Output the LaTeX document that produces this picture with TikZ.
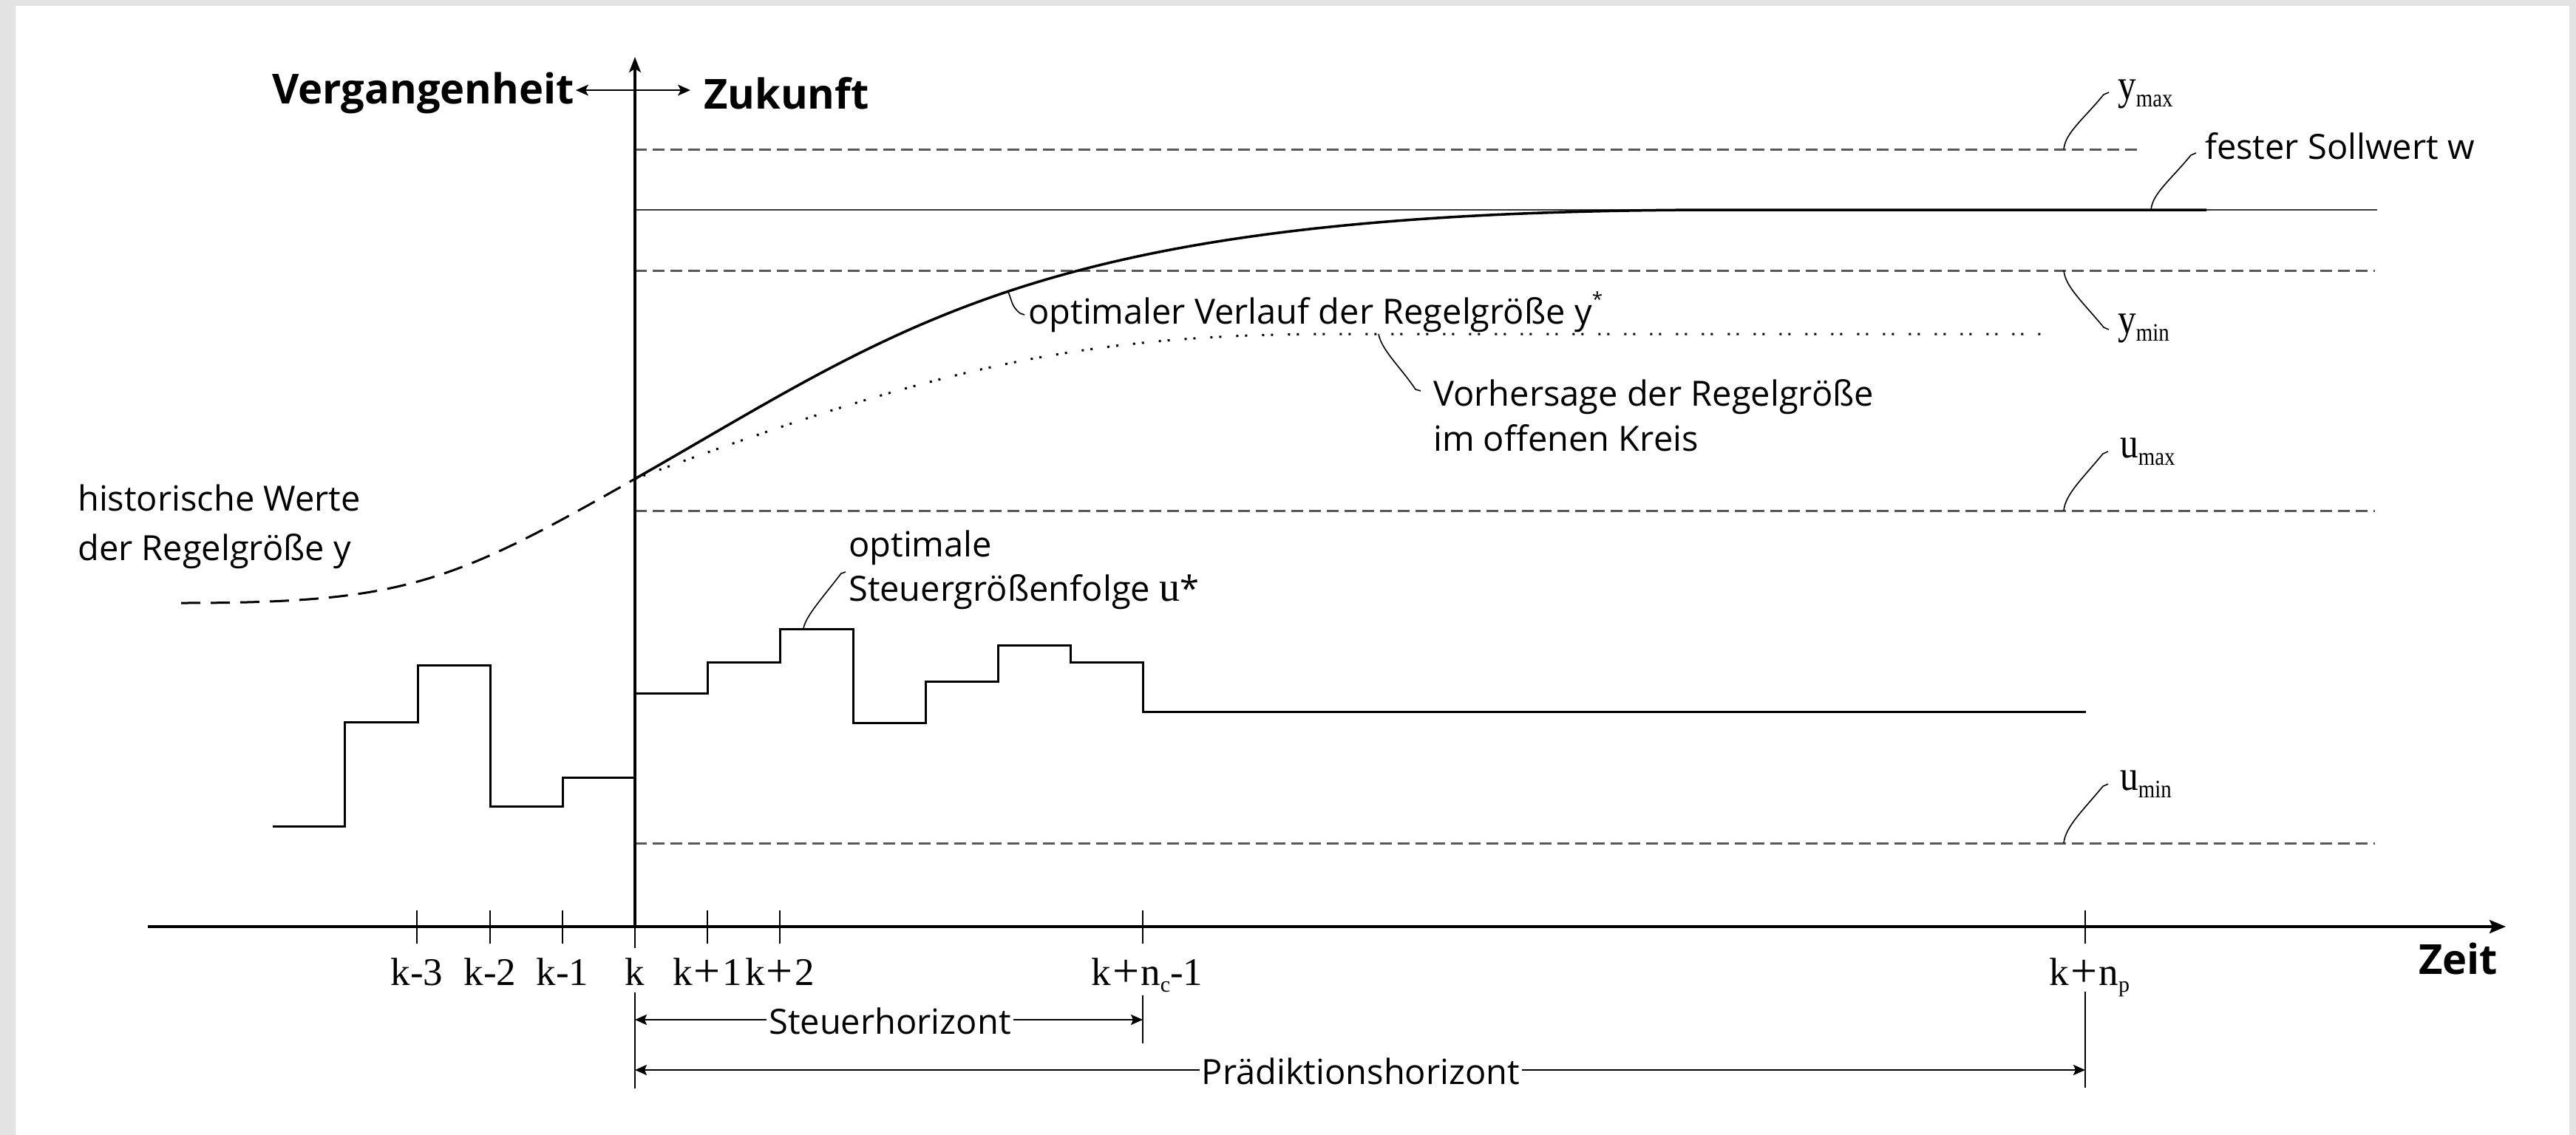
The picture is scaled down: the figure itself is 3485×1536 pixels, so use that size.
\documentclass[tikz,border=0pt]{standalone}
\usepackage{fontspec}
\setmainfont{Open Sans}
\newfontfamily\serifreg{Liberation Serif}
\newfontfamily\serifnar{Liberation Serif}[FakeStretch=0.85]
\usetikzlibrary{arrows.meta}
\definecolor{framegrey}{HTML}{E3E3E3}
\definecolor{limgrey}{HTML}{585858}
\definecolor{wgrey}{HTML}{3A3A3A}
\newcommand{\symlbl}[2]{{\serifnar\fontsize{58}{60}\selectfont #1\raisebox{-10pt}{\fontsize{34}{34}\selectfont #2}}}
\newcommand{\pl}{\kern2pt\raisebox{-2pt}{\fontsize{64}{60}\selectfont +}\kern2pt}
\begin{document}
\begin{tikzpicture}[x=1pt,y=-1pt,
  txt/.style={font=\fontsize{47}{56}\selectfont,inner sep=0pt,anchor=base west},
  hdr/.style={font=\fontsize{56}{66}\selectfont\bfseries,inner sep=0pt,anchor=base west},
  ticklbl/.style={font=\serifreg\fontsize{53}{60}\selectfont,inner sep=0pt,anchor=base},
  symb/.style={inner sep=0pt,anchor=base west},
  tickline/.style={line width=1.5pt},
  limit/.style={draw=limgrey,line width=3pt,dash pattern=on 16pt off 8pt},
  setpoint/.style={draw=wgrey,line width=2.5pt},
  leader/.style={line width=1.6pt},
  axisline/.style={line width=3.5pt},
  stepline/.style={line width=3pt,line join=miter},
  ystarline/.style={line width=3.5pt},
  histline/.style={line width=3pt,dash pattern=on 26pt off 14pt},
  openloop/.style={line width=3pt,dash pattern=on 3pt off 9pt on 3pt off 20pt},
  horiz/.style={line width=2.5pt,{Stealth[length=16pt,width=14pt,inset=3pt]}-{Stealth[length=16pt,width=14pt,inset=3pt]}},
  horizlbl/.style={font=\fontsize{47}{56}\selectfont,inner ysep=0pt,inner xsep=3pt,fill=white,anchor=base}
]
\fill[framegrey] (0,0) rectangle (3485,1536);
\fill[white] (21,8) rectangle (3476,1536);
\useasboundingbox (0,0) rectangle (3485,1536);

% ---------- limit and setpoint lines
\coordinate (ymaxL) at (859,202);  \coordinate (ymaxR) at (2895,202);
\coordinate (wL) at (859,284);     \coordinate (wR) at (3216,284);
\coordinate (yminL) at (859,366);  \coordinate (yminR) at (3213,366);
\coordinate (umaxL) at (859,691);  \coordinate (umaxR) at (3213,691);
\coordinate (uminL) at (859,1141); \coordinate (uminR) at (3213,1141);
\draw[limit] (ymaxL) -- (ymaxR);
\draw[limit] (yminL) -- (yminR);
\draw[limit] (umaxL) -- (umaxR);
\draw[limit] (uminL) -- (uminR);
\draw[setpoint] (wL) -- (wR);

% ---------- curves
\coordinate (y0) at (859,648);
\coordinate (hist0) at (245,816);
\draw[histline] (hist0) .. controls (545,816) and (609,790.5) .. (y0);
\draw[openloop] (y0) .. controls (1259,500) and (1457,452) .. (1807,452) -- (2769,452);
\draw[ystarline] (y0) .. controls (1235,434) and (1410,284) .. (2330,284)
   coordinate[pos=0.478] (ystarpt) -- (2985,284);

% ---------- control sequence u
\draw[stepline] (369,1118) -| (466,977) -| (565,900) -| (663,1091) -| (761,1052)
  -| (859,938) -| (957,896) -| (1055,851) -| (1154,978) -| (1252,922)
  -| (1350,873) -| (1448,896) -| (1546,963) -- (2822,963);

% ---------- axes
\coordinate (O) at (859,1254);
\coordinate (ytop) at (859,77);
\coordinate (tL) at (200,1254);
\coordinate (tR) at (3390,1254);
\draw[axisline,-{Stealth[length=21pt,width=16pt,inset=5pt]}] (O) -- (ytop);
\draw[line width=4pt,-{Stealth[length=22pt,width=18pt,inset=4pt]}] (tL) -- (tR);
\coordinate (pastTip) at (779,122);
\coordinate (futTip) at (934,122);
\draw[line width=2pt,{Stealth[length=17pt,width=15pt,inset=4pt]}-{Stealth[length=17pt,width=15pt,inset=4pt]}] (pastTip) -- (futTip);
\node[hdr,anchor=base east] (verg) at (777,140) {Vergangenheit};
\node[hdr] (zuk) at (952,148) {Zukunft};
\node[hdr] (zeit) at (3272,1318) {Zeit};

% ---------- ticks and tick labels
\foreach \x in {564,663,761,957,1055,1546,2821} \draw[tickline] (\x,1232) -- (\x,1277);
\draw[tickline] (859,1254) -- (859,1283);
\node[ticklbl] (lkm3) at (564,1333) {k-3};
\node[ticklbl] (lkm2) at (663,1333) {k-2};
\node[ticklbl] (lkm1) at (761,1333) {k-1};
\node[ticklbl] (lk) at (859,1333) {k};
\node[ticklbl] (lkp1) at (957,1333) {k\pl 1};
\node[ticklbl] (lkp2) at (1055,1333) {k\pl 2};
\node[ticklbl] (lknc) at (1552,1333) {k\pl n\raisebox{-9pt}{\fontsize{30}{30}\selectfont c}-1};
\node[ticklbl] (lknp) at (2827,1333) {k\pl n\raisebox{-9pt}{\fontsize{30}{30}\selectfont p}};

% ---------- horizons
\draw[tickline] (859,1343) -- (859,1473);
\draw[tickline] (1546,1347) -- (1546,1412);
\draw[tickline] (2821,1342) -- (2821,1472);
\coordinate (shL) at (859,1380); \coordinate (shR) at (1546,1380);
\coordinate (phL) at (859,1448); \coordinate (phR) at (2821,1448);
\draw[horiz] (shL) -- (shR);
\draw[horiz] (phL) -- (phR);
\node[horizlbl] (steuerh) at (1204,1399) {Steuerhorizont};
\node[horizlbl] (praedh) at (1841,1467) {Prädiktionshorizont};

% ---------- labels with leaders
\node[symb] (ymaxlbl) at (2865,135) {\symlbl{y}{max}};
\node[symb] (yminlbl) at (2865,451) {\symlbl{y}{min}};
\node[symb] (umaxlbl) at (2868,619) {\symlbl{u}{max}};
\node[symb] (uminlbl) at (2868,1069) {\symlbl{u}{min}};
\node[txt] (wlbl) at (2983,215) {fester Sollwert w};

\coordinate (ymaxA) at (2792,202); \coordinate (ymaxB) at (2846,128);
\coordinate (wA) at (2910,284);    \coordinate (wB) at (2964,210);
\coordinate (yminA) at (2792,366); \coordinate (yminB) at (2846,443);
\coordinate (umaxA) at (2792,691); \coordinate (umaxB) at (2845,614);
\coordinate (uminA) at (2792,1141); \coordinate (uminB) at (2845,1064);
\draw[leader] (ymaxA) .. controls +(2,-22) and +(-28,34) .. (ymaxB) -- +(7,-3);
\draw[leader] (wA) .. controls +(2,-22) and +(-28,34) .. (wB) -- +(7,-3);
\draw[leader] (umaxA) .. controls +(2,-22) and +(-28,34) .. (umaxB) -- +(7,-3);
\draw[leader] (uminA) .. controls +(2,-22) and +(-28,34) .. (uminB) -- +(7,-3);
\draw[leader] (yminA) .. controls +(2,22) and +(-28,-34) .. (yminB) -- +(7,3);

\node[txt] (ystarlbl) at (1391,438) {optimaler Verlauf der Regelgröße y\raisebox{24pt}{\fontsize{26}{26}\selectfont *}};
\coordinate (ystarB) at (1380,424);
\draw[leader] (ystarpt) .. controls +(6,14) and +(-12,-10) .. (ystarB) -- +(6,2);

\node[txt] (vorh1) at (1939,549) {Vorhersage der Regelgröße};
\node[txt] (vorh2) at (1939,610) {im offenen Kreis};
\coordinate (vorhA) at (1865,452); \coordinate (vorhB) at (1915,527);
\draw[leader] (vorhA) .. controls +(4,22) and +(-20,-30) .. (vorhB) -- +(7,2);

\node[txt] (hist1) at (105,691) {historische Werte};
\node[txt] (hist2) at (105,758) {der Regelgröße y};

\node[txt] (opt1) at (1148,753) {optimale};
\node[txt] (opt2) at (1148,813) {Steuergrößenfolge {\serifreg\fontsize{56}{56}\selectfont u}*};
\coordinate (ustarA) at (1087,851); \coordinate (ustarB) at (1138,776);
\draw[leader] (ustarA) .. controls +(2,-16) and +(-26,34) .. (ustarB) -- +(6,-2);
\end{tikzpicture}
\end{document}
